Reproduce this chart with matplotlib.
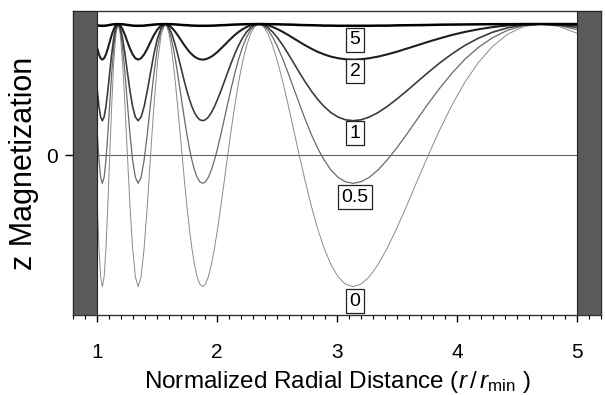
import matplotlib
matplotlib.use("Agg")
import matplotlib.pyplot as plt
from matplotlib.ticker import MultipleLocator

plt.rcParams['font.family'] = ['Liberation Sans', 'DejaVu Sans']
plt.rcParams['mathtext.fontset'] = 'custom'
plt.rcParams['mathtext.rm'] = 'Liberation Sans'
plt.rcParams['mathtext.it'] = 'Liberation Sans:italic'

# radial positions (r / r_min)
r = [1.0027, 1.0162, 1.0301, 1.0444, 1.0592, 1.0743, 1.0899, 1.1059, 1.1224, 1.1394,
     1.1569, 1.1750, 1.1937, 1.2129, 1.2328, 1.2533, 1.2746, 1.2966, 1.3193, 1.3429,
     1.3673, 1.3926, 1.4189, 1.4462, 1.4745, 1.5040, 1.5347, 1.5667,
     1.5832, 1.6000, 1.6172, 1.6348, 1.6527, 1.6711, 1.6899, 1.7091, 1.7287, 1.7488,
     1.7694, 1.7905, 1.8120, 1.8341, 1.8568, 1.8800, 1.9038, 1.9282, 1.9532, 1.9789,
     2.0053, 2.0324, 2.0603, 2.0889, 2.1183, 2.1486, 2.1797, 2.2118, 2.2448, 2.2788,
     2.3138, 2.3500,
     2.3873, 2.4258, 2.4656, 2.5067, 2.5492, 2.5931, 2.6386, 2.6857, 2.7345, 2.7852,
     2.8377, 2.8923, 2.9490, 3.0080, 3.0694, 3.1333, 3.2000, 3.2696, 3.3422, 3.4182,
     3.4977, 3.5810, 3.6683, 3.7600, 3.8564, 3.9579, 4.0649, 4.1778, 4.2971, 4.4235,
     4.5576, 4.7000, 4.8516, 5.0000]

mz_0 = [-0.383, -0.707, -0.924, -1.0, -0.924, -0.707, -0.383, 0.0, 0.383, 0.707,
        0.924, 1.0, 0.924, 0.707, 0.383, 0.0, -0.383, -0.707, -0.924, -1.0,
        -0.924, -0.707, -0.383, 0.0, 0.383, 0.707, 0.924, 1.0,
        0.981, 0.924, 0.831, 0.707, 0.556, 0.383, 0.195, 0.0, -0.195, -0.383,
        -0.556, -0.707, -0.831, -0.924, -0.981, -1.0, -0.981, -0.924, -0.831, -0.707,
        -0.556, -0.383, -0.195, 0.0, 0.195, 0.383, 0.556, 0.707, 0.831, 0.924,
        0.981, 1.0,
        0.981, 0.924, 0.831, 0.707, 0.556, 0.383, 0.195, 0.0, -0.195, -0.383,
        -0.556, -0.707, -0.831, -0.924, -0.981, -1.0, -0.981, -0.924, -0.831, -0.707,
        -0.556, -0.383, -0.195, 0.0, 0.195, 0.383, 0.556, 0.707, 0.831, 0.924,
        0.981, 1.0, 0.981, 0.930]

mz_05 = [0.161, -0.035, -0.167, -0.213, -0.167, -0.035, 0.161, 0.394, 0.626, 0.822,
         0.954, 1.0, 0.954, 0.822, 0.626, 0.394, 0.161, -0.035, -0.167, -0.213,
         -0.167, -0.035, 0.161, 0.394, 0.626, 0.822, 0.954, 1.0,
         0.988, 0.954, 0.897, 0.822, 0.731, 0.626, 0.512, 0.394, 0.275, 0.161,
         0.056, -0.035, -0.111, -0.167, -0.201, -0.213, -0.201, -0.167, -0.111, -0.035,
         0.056, 0.161, 0.275, 0.394, 0.512, 0.626, 0.731, 0.822, 0.897, 0.954,
         0.988, 1.0,
         0.988, 0.954, 0.897, 0.822, 0.731, 0.626, 0.512, 0.394, 0.275, 0.161,
         0.056, -0.035, -0.111, -0.167, -0.201, -0.213, -0.201, -0.167, -0.111, -0.035,
         0.056, 0.161, 0.275, 0.394, 0.512, 0.626, 0.731, 0.822, 0.897, 0.954,
         0.988, 1.0, 0.988, 0.958]

mz_1 = [0.491, 0.372, 0.292, 0.264, 0.292, 0.372, 0.491, 0.632, 0.773, 0.892,
        0.972, 1.0, 0.972, 0.892, 0.773, 0.632, 0.491, 0.372, 0.292, 0.264,
        0.292, 0.372, 0.491, 0.632, 0.773, 0.892, 0.972, 1.0,
        0.993, 0.972, 0.938, 0.892, 0.837, 0.773, 0.704, 0.632, 0.560, 0.491,
        0.428, 0.372, 0.326, 0.292, 0.271, 0.264, 0.271, 0.292, 0.326, 0.372,
        0.428, 0.491, 0.560, 0.632, 0.704, 0.773, 0.837, 0.892, 0.938, 0.972,
        0.993, 1.0,
        0.993, 0.972, 0.938, 0.892, 0.837, 0.773, 0.704, 0.632, 0.560, 0.491,
        0.428, 0.372, 0.326, 0.292, 0.271, 0.264, 0.271, 0.292, 0.326, 0.372,
        0.428, 0.491, 0.560, 0.632, 0.704, 0.773, 0.837, 0.892, 0.938, 0.972,
        0.993, 1.0, 0.993, 0.974]

mz_2 = [0.813, 0.769, 0.740, 0.729, 0.740, 0.769, 0.813, 0.865, 0.917, 0.960,
        0.990, 1.0, 0.990, 0.960, 0.917, 0.865, 0.813, 0.769, 0.740, 0.729,
        0.740, 0.769, 0.813, 0.865, 0.917, 0.960, 0.990, 1.0,
        0.997, 0.990, 0.977, 0.960, 0.940, 0.917, 0.891, 0.865, 0.838, 0.813,
        0.789, 0.769, 0.752, 0.740, 0.732, 0.729, 0.732, 0.740, 0.752, 0.769,
        0.789, 0.813, 0.838, 0.865, 0.891, 0.917, 0.940, 0.960, 0.977, 0.990,
        0.997, 1.0,
        0.997, 0.990, 0.977, 0.960, 0.940, 0.917, 0.891, 0.865, 0.838, 0.813,
        0.789, 0.769, 0.752, 0.740, 0.732, 0.729, 0.732, 0.740, 0.752, 0.769,
        0.789, 0.813, 0.838, 0.865, 0.891, 0.917, 0.940, 0.960, 0.977, 0.990,
        0.997, 1.0, 0.997, 0.991]

mz_5 = [0.991, 0.988, 0.987, 0.987, 0.987, 0.988, 0.991, 0.993, 0.996, 0.998,
        0.999, 1.0, 0.999, 0.998, 0.996, 0.993, 0.991, 0.988, 0.987, 0.987,
        0.987, 0.988, 0.991, 0.993, 0.996, 0.998, 0.999, 1.0,
        1.0, 0.999, 0.999, 0.998, 0.997, 0.996, 0.995, 0.993, 0.992, 0.991,
        0.990, 0.988, 0.988, 0.987, 0.987, 0.987, 0.987, 0.987, 0.988, 0.988,
        0.990, 0.991, 0.992, 0.993, 0.995, 0.996, 0.997, 0.998, 0.999, 0.999,
        1.0, 1.0,
        1.0, 0.999, 0.999, 0.998, 0.997, 0.996, 0.995, 0.993, 0.992, 0.991,
        0.990, 0.988, 0.988, 0.987, 0.987, 0.987, 0.987, 0.987, 0.988, 0.988,
        0.990, 0.991, 0.992, 0.993, 0.995, 0.996, 0.997, 0.998, 0.999, 0.999,
        1.0, 1.0, 1.0, 1.0]

labels = ['0', '0.5', '1', '2', '5']
label_y = [-1.11, -0.32, 0.17, 0.64, 0.88]

fig = plt.figure(figsize=(6.05, 3.95), dpi=100)
ax = fig.add_axes([0.1207, 0.2025, 0.8727, 0.7695])

# shaded regions outside r_min .. r_max
ax.axvspan(0.8, 1.0, facecolor='#5a5a5a', edgecolor='#222222', lw=0.8, zorder=3)
ax.axvspan(5.0, 5.2, facecolor='#5a5a5a', edgecolor='#222222', lw=0.8, zorder=3)

ax.plot([1.0, 5.0], [0, 0], color='#666666', lw=0.8, zorder=1)

series = [mz_0, mz_05, mz_1, mz_2, mz_5]
colors = ['#8a8a8a', '#6a6a6a', '#3c3c3c', '#1e1e1e', '#000000']
widths = [0.7, 0.9, 1.2, 1.5, 1.8]
for ys, c, w in zip(series, colors, widths):
    ax.plot(r, ys, color=c, lw=w, zorder=2, solid_joinstyle='round')

for lab, yy in zip(labels, label_y):
    ax.text(3.15, yy, lab, ha='center', va='center', fontsize=14, zorder=4,
            bbox=dict(boxstyle='square,pad=0.18', fc='white', ec='#222222', lw=0.9))

ax.set_xlim(0.8, 5.2)
ax.set_ylim(-1.216, 1.099)
ax.set_xticks([1, 2, 3, 4, 5])
ax.xaxis.set_minor_locator(MultipleLocator(0.1))
ax.set_yticks([0])
ax.tick_params(axis='x', which='major', direction='out', length=5, width=1, labelsize=15, pad=15)
ax.tick_params(axis='x', which='minor', direction='out', length=3, width=0.8)
ax.tick_params(axis='y', which='major', direction='out', length=6, width=1, labelsize=15, pad=5)
for s in ax.spines.values():
    s.set_linewidth(1.0)
    s.set_color('#333333')

ax.set_xlabel(r'Normalized Radial Distance ($r\,/\,r_{\mathrm{min}}$ )', fontsize=17.5)
ax.xaxis.set_label_coords(0.5, -0.178)
ax.set_ylabel('z Magnetization', fontsize=22)
ax.yaxis.set_label_coords(-0.064, 0.5)

fig.savefig('out.png', dpi=100)
